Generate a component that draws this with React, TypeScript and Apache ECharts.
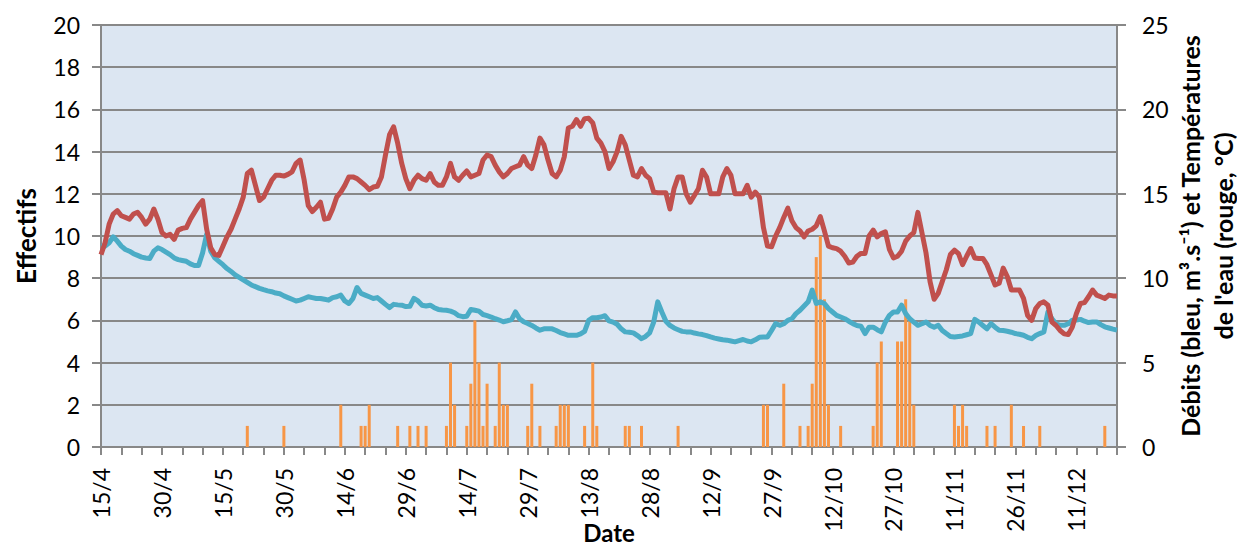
import React, { useEffect, useRef } from "react";
import * as echarts from "echarts";

// ---- Data ----
const START_YEAR = 2013;
const START_MONTH = 3; // April (0-based)
const START_DAY = 15;
const DAY_COUNT = 251;

// Water temperature (°C), one value per day from 15/4
const temperature = [
  11.4, 12.1, 13.2, 13.8, 14.0, 13.7, 13.6, 13.5, 13.8, 13.9,
  13.6, 13.2, 13.5, 14.1, 13.5, 12.7, 12.5, 12.6, 12.3, 12.85,
  12.95, 13.0, 13.5, 13.9, 14.3, 14.6, 12.9, 11.8, 11.4, 11.35,
  11.9, 12.45, 12.9, 13.5, 14.1, 14.8, 16.2, 16.4, 15.5, 14.6,
  14.8, 15.3, 15.8, 16.1, 16.1, 16.05, 16.15, 16.3, 16.8, 17.0,
  15.8, 14.3, 13.95, 14.2, 14.5, 13.5, 13.55, 14.1, 14.8, 15.1,
  15.5, 16.0, 16.0, 15.9, 15.7, 15.5, 15.25, 15.4, 15.45, 16.0,
  17.3, 18.5, 18.97, 18.0, 16.8, 15.9, 15.3, 15.8, 16.1, 15.9,
  15.8, 16.2, 15.7, 15.5, 15.5, 16.0, 16.8, 16.0, 15.8, 16.1,
  16.35, 16.0, 16.1, 16.2, 17.0, 17.3, 17.2, 16.7, 16.3, 16.0,
  16.2, 16.5, 16.6, 16.7, 17.2, 16.7, 16.5, 17.3, 18.3, 17.9,
  17.0, 16.2, 16.0, 16.4, 17.2, 18.9, 19.0, 19.4, 19.0, 19.45,
  19.47, 19.2, 18.3, 18.0, 17.5, 16.5, 16.9, 17.5, 18.4, 17.9,
  17.0, 16.1, 16.0, 16.5, 16.1, 15.9, 15.1, 15.06, 15.06, 15.06,
  14.1, 15.3, 16.0, 16.0, 15.0, 14.5, 14.9, 15.3, 16.4, 16.0,
  15.0, 15.0, 15.0, 16.0, 16.5, 16.1, 15.0, 15.0, 15.0, 15.5,
  14.8, 15.1, 14.8, 13.0, 11.9, 11.86, 12.5, 13.0, 13.6, 14.15,
  13.4, 13.0, 12.8, 12.45, 12.8, 12.9, 13.1, 13.65, 12.8, 11.9,
  11.8, 11.75, 11.6, 11.3, 10.9, 10.95, 11.3, 11.47, 11.47, 12.5,
  12.85, 12.45, 12.65, 12.75, 11.7, 11.2, 11.3, 11.6, 12.2, 12.5,
  12.7, 13.9, 12.7, 11.5, 9.8, 8.75, 9.1, 9.8, 10.5, 11.4,
  11.66, 11.45, 10.8, 11.3, 11.76, 11.2, 11.17, 11.17, 10.8, 10.2,
  9.6, 9.7, 10.6, 10.1, 9.3, 9.3, 9.3, 8.8, 7.8, 7.5,
  8.2, 8.5, 8.6, 8.4, 7.4, 7.2, 6.9, 6.7, 6.66, 7.1,
  7.9, 8.5, 8.55, 8.9, 9.3, 9.0, 8.9, 8.8, 9.0, 8.95,
  8.94,
];

// Discharge (m3/s), one value per day from 15/4
const discharge = [
  11.9, 11.9, 12.1, 12.45, 12.2, 11.9, 11.7, 11.6, 11.45, 11.35,
  11.25, 11.2, 11.17, 11.6, 11.8, 11.7, 11.55, 11.4, 11.2, 11.1,
  11.05, 11.0, 10.85, 10.75, 10.75, 11.5, 12.6, 11.6, 11.2, 11.0,
  10.8, 10.57, 10.4, 10.2, 10.05, 9.9, 9.75, 9.6, 9.5, 9.4,
  9.32, 9.25, 9.2, 9.12, 9.08, 8.95, 8.85, 8.75, 8.65, 8.7,
  8.8, 8.9, 8.85, 8.8, 8.8, 8.75, 8.7, 8.85, 8.9, 9.0,
  8.65, 8.5, 8.8, 9.45, 9.1, 9.0, 8.9, 8.8, 8.85, 8.65,
  8.45, 8.26, 8.45, 8.42, 8.4, 8.32, 8.34, 8.8, 8.65, 8.4,
  8.35, 8.4, 8.25, 8.15, 8.12, 8.1, 8.05, 7.95, 7.78, 7.72,
  7.75, 8.15, 8.1, 8.05, 7.85, 7.78, 7.7, 7.6, 7.52, 7.42,
  7.48, 7.55, 8.0, 7.6, 7.42, 7.32, 7.2, 7.05, 6.92, 7.0,
  7.0, 7.0, 6.9, 6.78, 6.7, 6.62, 6.62, 6.62, 6.7, 6.85,
  7.5, 7.66, 7.66, 7.7, 7.78, 7.47, 7.4, 7.27, 7.0, 6.82,
  6.8, 6.76, 6.6, 6.42, 6.55, 6.76, 7.4, 8.6, 8.0, 7.45,
  7.2, 7.05, 6.95, 6.85, 6.82, 6.82, 6.75, 6.7, 6.66, 6.6,
  6.52, 6.45, 6.4, 6.35, 6.33, 6.28, 6.23, 6.3, 6.37, 6.28,
  6.23, 6.35, 6.5, 6.52, 6.52, 6.9, 7.31, 7.21, 7.3, 7.5,
  7.6, 7.9, 8.1, 8.35, 8.6, 9.29, 8.5, 8.6, 8.5, 8.2,
  8.0, 7.8, 7.7, 7.6, 7.45, 7.31, 7.2, 7.15, 6.72, 7.1,
  7.1, 6.95, 6.82, 7.4, 7.8, 8.0, 8.0, 8.4, 7.9, 7.6,
  7.4, 7.21, 7.3, 7.41, 7.2, 7.1, 7.21, 6.9, 6.72, 6.55,
  6.52, 6.55, 6.58, 6.65, 6.72, 7.56, 7.4, 7.2, 7.0, 7.31,
  7.1, 6.92, 6.9, 6.86, 6.8, 6.72, 6.68, 6.62, 6.5, 6.42,
  6.6, 6.72, 6.82, 8.0, 7.6, 7.3, 7.21, 7.21, 7.3, 7.51,
  7.52, 7.56, 7.45, 7.37, 7.4, 7.41, 7.25, 7.12, 7.05, 6.98,
  6.92,
];

// Fish counts (Effectifs): day index (from 15/4) and count
const fishDays = [
  36, 45, 59, 64, 65, 66, 73, 76, 78, 80,
  85, 86, 87, 90, 91, 92, 93, 94, 95, 97,
  98, 99, 100, 105, 106, 108, 112, 113, 114, 115,
  119, 121, 122, 129, 130, 133, 142, 163, 164, 168,
  172, 174, 175, 176, 177, 178, 179, 182, 190, 191,
  192, 196, 197, 198, 199, 200, 210, 211, 212, 213,
  218, 220, 224, 227, 231, 247,
];
const fishCounts = [
  1, 1, 2, 1, 1, 2, 1, 1, 1, 1,
  1, 4, 2, 1, 3, 6, 4, 1, 3, 1,
  4, 2, 2, 1, 3, 1, 1, 2, 2, 2,
  1, 4, 1, 1, 1, 1, 1, 2, 2, 3,
  1, 1, 3, 9, 10, 7, 2, 1, 1, 4,
  5, 5, 5, 7, 6, 2, 2, 1, 2, 1,
  1, 1, 2, 1, 1, 1,
];

const leftTicks = { min: 0, max: 20, interval: 2 };
const rightTicks = { min: 0, max: 25, interval: 5 };

const FONT = "Lato, 'DejaVu Sans', sans-serif";

function buildCategories(): string[] {
  const out: string[] = [];
  for (let i = 0; i < DAY_COUNT; i++) {
    const d = new Date(START_YEAR, START_MONTH, START_DAY + i);
    out.push(`${d.getDate()}/${d.getMonth() + 1}`);
  }
  return out;
}

export default function App() {
  const ref = useRef<HTMLDivElement>(null);

  useEffect(() => {
    document.documentElement.style.overflow = "hidden";
    document.body.style.overflow = "hidden";
    document.body.style.margin = "0";
    if (!ref.current) return;
    const chart = echarts.init(ref.current, undefined, { renderer: "svg", width: 1237, height: 549 });
    const categories = buildCategories();
    const barData: (number | string)[] = categories.map(() => "-");
    fishDays.forEach((d, i) => {
      barData[d] = fishCounts[i];
    });

    const gray = "#888888";

    chart.setOption({
      animation: false,
      grid: {
        left: 101,
        right: 120,
        top: 25,
        bottom: 102,
        containLabel: false,
        outerBoundsMode: "none",
        show: true,
        backgroundColor: "#dce6f2",
        borderWidth: 0,
      },
      xAxis: {
        type: "category",
        data: categories,
        boundaryGap: false,
        name: "Date",
        nameLocation: "middle",
        nameMoveOverlap: false,
        nameGap: 73,
        nameTextStyle: { fontFamily: FONT, fontSize: 24, fontWeight: "bold", color: "#000", lineHeight: 24 },
        axisLine: { lineStyle: { color: gray, width: 2 } },
        axisTick: { show: true, interval: 4, length: 8, lineStyle: { color: gray, width: 2 } },
        axisLabel: {
          interval: 14,
          rotate: 90,
          margin: 21,
          fontFamily: FONT,
          fontSize: 23,
          color: "#000",
        },
        splitLine: { show: false },
      },
      yAxis: [
        {
          type: "value",
          position: "left",
          ...leftTicks,
          name: "Effectifs",
          nameLocation: "middle",
          nameGap: 62,
          nameRotate: 90,
          nameTextStyle: { fontFamily: FONT, fontSize: 26, fontWeight: "bold", color: "#000" },
          axisLine: { show: true, lineStyle: { color: gray, width: 2 } },
          axisTick: { show: true, length: 9, lineStyle: { color: gray, width: 2 } },
          axisLabel: { margin: 21, fontFamily: FONT, fontSize: 23, color: "#000" },
          splitLine: { show: true, lineStyle: { color: gray, width: 2 } },
        },
        {
          type: "value",
          position: "right",
          ...rightTicks,
          name: "Débits (bleu, m³.s⁻¹) et Températures\nde l'eau (rouge, °C)",
          nameLocation: "middle",
          nameMoveOverlap: false,
          nameGap: 56,
          nameRotate: 90,
          nameTextStyle: {
            fontFamily: FONT,
            fontSize: 25,
            fontWeight: "bold",
            color: "#000",
            lineHeight: 33,
            align: "center",
          },
          axisLine: { show: true, lineStyle: { color: gray, width: 2 } },
          axisTick: { show: true, length: 9, lineStyle: { color: gray, width: 2 } },
          axisLabel: { margin: 25, fontFamily: FONT, fontSize: 23, color: "#000" },
          splitLine: { show: false },
        },
      ],
      series: [
        {
          name: "Effectifs",
          type: "bar",
          yAxisIndex: 0,
          data: barData,
          barWidth: 3,
          itemStyle: { color: "#f79646" },
        },
        {
          name: "Débits",
          type: "line",
          yAxisIndex: 1,
          data: discharge,
          showSymbol: false,
          symbol: "none",
          lineStyle: { color: "#4bacc6", width: 5, join: "round" },
        },
        {
          name: "Températures",
          type: "line",
          yAxisIndex: 1,
          data: temperature,
          showSymbol: false,
          symbol: "none",
          lineStyle: { color: "#c0504d", width: 5, join: "round" },
        },
      ],
    });

    return () => chart.dispose();
  }, []);

  return (
    <div
      ref={ref}
      style={{ position: "absolute", left: 0, top: 0, width: 1237, height: 549, background: "#fff" }}
    />
  );
}
